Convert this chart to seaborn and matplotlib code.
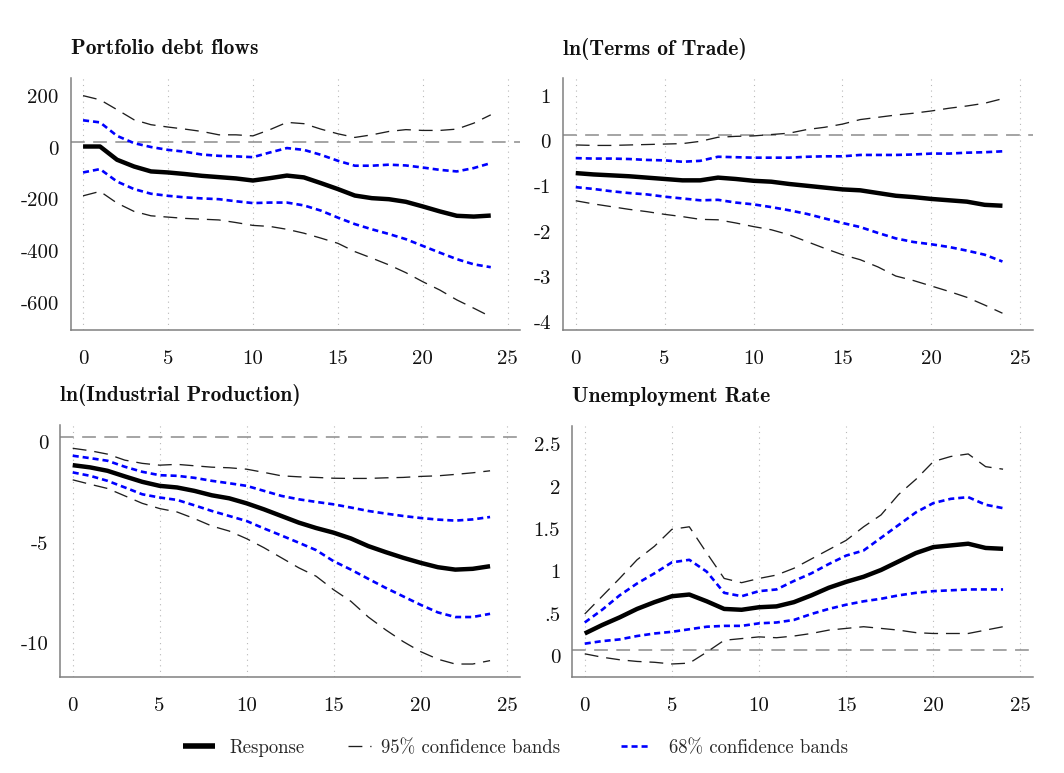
import matplotlib
matplotlib.use("Agg")
import matplotlib.pyplot as plt
from matplotlib import transforms
from matplotlib.lines import Line2D
import seaborn as sns

# Impulse horizon (months)
horizon = list(range(25))
x_ticks = [0, 5, 10, 15, 20, 25]

# Portfolio debt flows
pdf_resp = [-17, -17, -68, -94, -113, -117, -123, -130, -135, -140, -148, -139, -129,
            -136, -158, -181, -206, -216, -220, -230, -248, -267, -284, -287, -283]
pdf_hi95 = [179, 163, 125, 86, 67, 58, 50, 41, 28, 28, 24, 48, 76, 71, 50, 32, 18, 28,
            41, 48, 45, 45, 50, 73, 105]
pdf_hi68 = [84, 76, 24, -4, -19, -30, -37, -48, -53, -55, -58, -40, -23, -30, -49, -72,
            -91, -91, -87, -90, -98, -107, -113, -100, -81]
pdf_lo68 = [-117, -104, -152, -181, -199, -207, -213, -217, -220, -228, -235, -233, -233,
            -244, -264, -291, -316, -336, -354, -374, -400, -426, -451, -471, -482]
pdf_lo95 = [-207, -190, -235, -267, -284, -289, -294, -297, -300, -310, -321, -325, -336,
            -351, -370, -390, -422, -447, -473, -503, -538, -570, -608, -640, -673]
pdf_yticks = [200, 0, -200, -400, -600]
pdf_ylabels = ["200", "0", "-200", "-400", "-600"]

# ln(Terms of Trade)
tot_resp = [-0.83, -0.86, -0.88, -0.90, -0.93, -0.96, -0.99, -0.99, -0.93, -0.96, -1.00,
            -1.02, -1.07, -1.11, -1.15, -1.19, -1.21, -1.27, -1.33, -1.36, -1.40, -1.43,
            -1.46, -1.53, -1.55]
tot_hi95 = [-0.21, -0.22, -0.22, -0.21, -0.20, -0.19, -0.18, -0.13, -0.04, -0.02, -0.01,
            0.02, 0.05, 0.13, 0.18, 0.25, 0.35, 0.40, 0.45, 0.49, 0.54, 0.60, 0.65, 0.71, 0.81]
tot_hi68 = [-0.50, -0.51, -0.51, -0.52, -0.54, -0.55, -0.58, -0.56, -0.47, -0.48, -0.49,
            -0.49, -0.49, -0.47, -0.46, -0.46, -0.43, -0.43, -0.43, -0.42, -0.40, -0.40,
            -0.38, -0.37, -0.35]
tot_lo68 = [-1.14, -1.18, -1.23, -1.27, -1.30, -1.35, -1.39, -1.43, -1.42, -1.48, -1.52,
            -1.58, -1.65, -1.73, -1.83, -1.93, -2.02, -2.15, -2.27, -2.35, -2.40, -2.46,
            -2.54, -2.63, -2.78]
tot_lo95 = [-1.44, -1.51, -1.57, -1.63, -1.68, -1.74, -1.79, -1.85, -1.86, -1.93, -2.01,
            -2.08, -2.19, -2.34, -2.49, -2.63, -2.74, -2.90, -3.10, -3.20, -3.32, -3.44,
            -3.57, -3.74, -3.92]
tot_yticks = [1, 0, -1, -2, -3, -4]
tot_ylabels = ["1", "0", "-1", "-2", "-3", "-4"]

# ln(Industrial Production)
ip_resp = [-1.42, -1.53, -1.70, -1.98, -2.25, -2.45, -2.53, -2.70, -2.92, -3.07, -3.32,
           -3.62, -3.95, -4.28, -4.55, -4.78, -5.07, -5.45, -5.75, -6.03, -6.28, -6.50,
           -6.62, -6.58, -6.45]
ip_hi95 = [-0.58, -0.70, -0.87, -1.17, -1.33, -1.42, -1.38, -1.45, -1.52, -1.55, -1.62,
           -1.78, -1.95, -2.00, -2.03, -2.07, -2.08, -2.08, -2.05, -2.03, -1.98, -1.95,
           -1.88, -1.80, -1.70]
ip_hi68 = [-0.95, -1.07, -1.20, -1.50, -1.75, -1.92, -1.95, -2.05, -2.20, -2.32, -2.45,
           -2.70, -2.95, -3.12, -3.25, -3.37, -3.53, -3.70, -3.83, -3.95, -4.05, -4.13,
           -4.18, -4.12, -4.00]
ip_lo68 = [-1.78, -1.95, -2.20, -2.53, -2.87, -3.03, -3.15, -3.42, -3.70, -3.95, -4.20,
           -4.57, -4.92, -5.28, -5.65, -6.20, -6.62, -7.08, -7.53, -7.95, -8.37, -8.75,
           -8.98, -8.98, -8.82]
ip_lo95 = [-2.15, -2.37, -2.58, -2.95, -3.32, -3.58, -3.75, -4.08, -4.45, -4.70, -5.08,
           -5.53, -6.03, -6.53, -6.95, -7.62, -8.20, -8.98, -9.62, -10.20, -10.70, -11.08,
           -11.32, -11.32, -11.15]
ip_yticks = [0, -5, -10]
ip_ylabels = ["0", "-5", "-10"]

# Unemployment Rate
ur_resp = [0.20, 0.30, 0.39, 0.49, 0.57, 0.64, 0.66, 0.58, 0.49, 0.48, 0.51, 0.52, 0.57,
           0.65, 0.74, 0.81, 0.87, 0.95, 1.05, 1.15, 1.22, 1.24, 1.26, 1.21, 1.20]
ur_hi95 = [0.43, 0.64, 0.85, 1.07, 1.23, 1.43, 1.46, 1.15, 0.85, 0.80, 0.85, 0.89, 0.97,
           1.08, 1.19, 1.30, 1.46, 1.60, 1.84, 2.02, 2.23, 2.29, 2.32, 2.17, 2.14]
ur_hi68 = [0.33, 0.48, 0.65, 0.79, 0.91, 1.04, 1.07, 0.93, 0.68, 0.64, 0.70, 0.72, 0.82,
           0.91, 1.02, 1.12, 1.18, 1.33, 1.48, 1.63, 1.74, 1.79, 1.81, 1.72, 1.68]
ur_lo68 = [0.08, 0.11, 0.13, 0.17, 0.20, 0.22, 0.25, 0.28, 0.29, 0.29, 0.32, 0.33, 0.36,
           0.43, 0.49, 0.54, 0.58, 0.61, 0.65, 0.68, 0.70, 0.71, 0.72, 0.72, 0.72]
ur_lo95 = [-0.04, -0.08, -0.11, -0.13, -0.14, -0.16, -0.15, -0.02, 0.12, 0.14, 0.16, 0.15,
           0.17, 0.20, 0.24, 0.26, 0.28, 0.26, 0.24, 0.21, 0.20, 0.20, 0.20, 0.24, 0.28]
ur_yticks = [0, 0.5, 1, 1.5, 2, 2.5]
ur_ylabels = ["0", ".5", "1", "1.5", "2", "2.5"]

titles = ["Portfolio debt flows", "ln(Terms of Trade)",
          "ln(Industrial Production)", "Unemployment Rate"]
legend_labels = ["Response", "95% confidence bands", "68% confidence bands"]

panels = [
    dict(title=titles[0], resp=pdf_resp, hi95=pdf_hi95, lo95=pdf_lo95, hi68=pdf_hi68,
         lo68=pdf_lo68, yticks=pdf_yticks, ylabels=pdf_ylabels, ylim=(-724, 247),
         pos=[0.0664, 0.5731, 0.4223, 0.3260]),
    dict(title=titles[1], resp=tot_resp, hi95=tot_hi95, lo95=tot_lo95, hi68=tot_hi68,
         lo68=tot_lo68, yticks=tot_yticks, ylabels=tot_ylabels, ylim=(-4.29, 1.26),
         pos=[0.5289, 0.5731, 0.4420, 0.3256]),
    dict(title=titles[2], resp=ip_resp, hi95=ip_hi95, lo95=ip_lo95, hi68=ip_hi68,
         lo68=ip_lo68, yticks=ip_yticks, ylabels=ip_ylabels, ylim=(-11.95, 0.58),
         pos=[0.0564, 0.1246, 0.4323, 0.3256]),
    dict(title=titles[3], resp=ur_resp, hi95=ur_hi95, lo95=ur_lo95, hi68=ur_hi68,
         lo68=ur_lo68, yticks=ur_yticks, ylabels=ur_ylabels, ylim=(-0.31, 2.65),
         pos=[0.5376, 0.1246, 0.4333, 0.3243]),
]

# Line styles
resp_style = dict(color="black", linewidth=3.2, solid_capstyle="butt")
b95_style = dict(color="#1e1e1e", linewidth=0.95, linestyle=(0, (10.5, 6.0)))
b68_style = dict(color="#0000ff", linewidth=1.9, linestyle=(0, (2.3, 1.5)))
zero_style = dict(color="#8c8c8c", linewidth=1.1, linestyle=(0, (9.0, 5.5)))
grid_style = dict(color="#b8b8b8", linewidth=0.8, linestyle=(0, (1, 4)))
spine_color = "#808080"

sns.set_theme(style="white")
plt.rcParams["font.family"] = ["cmr10", "DejaVu Serif"]
plt.rcParams["axes.unicode_minus"] = False
plt.rcParams["axes.formatter.use_mathtext"] = True

fig = plt.figure(figsize=(10.64, 7.73), dpi=100)
label_shift = transforms.ScaledTranslation(0, -0.055, fig.dpi_scale_trans)

for p in panels:
    ax = fig.add_axes(p["pos"])
    for xv in x_ticks:
        ax.axvline(xv, zorder=0.5, **grid_style)
    ax.axhline(0, zorder=1, **zero_style)

    sns.lineplot(x=horizon, y=p["hi95"], ax=ax, errorbar=None, zorder=2, **b95_style)
    sns.lineplot(x=horizon, y=p["lo95"], ax=ax, errorbar=None, zorder=2, **b95_style)
    sns.lineplot(x=horizon, y=p["hi68"], ax=ax, errorbar=None, zorder=3, **b68_style)
    sns.lineplot(x=horizon, y=p["lo68"], ax=ax, errorbar=None, zorder=3, **b68_style)
    sns.lineplot(x=horizon, y=p["resp"], ax=ax, errorbar=None, zorder=4, **resp_style)

    ax.set_xlim(-0.73, 25.72)
    ax.set_ylim(*p["ylim"])
    ax.set_xticks(x_ticks)
    ax.set_xticklabels([str(v) for v in x_ticks])
    ax.set_yticks(p["yticks"])
    ax.set_yticklabels(p["ylabels"])
    ax.set_xlabel("")
    ax.set_ylabel("")
    ax.grid(False)
    ax.tick_params(axis="both", length=0, labelsize=15, labelcolor="#111111")
    ax.tick_params(axis="x", pad=14.5)
    ax.tick_params(axis="y", pad=8.5)
    for lbl in ax.get_yticklabels():
        lbl.set_transform(lbl.get_transform() + label_shift)

    for side in ("top", "right"):
        ax.spines[side].set_visible(False)
    for side in ("left", "bottom"):
        ax.spines[side].set_color(spine_color)
        ax.spines[side].set_linewidth(1.1)

    ax.annotate(p["title"], xy=(0, 1), xycoords="axes fraction",
                xytext=(0, 17), textcoords="offset points",
                ha="left", va="baseline", fontsize=15.5, family="cmb10",
                color="#111111")

# Legend: one entry per block, each with its own sample length
resp_handle = Line2D([], [], **resp_style)
resp_handle.set_linewidth(4.0)
legend_items = [
    (resp_handle, legend_labels[0], 183, 1.7, 0.8),
    (Line2D([], [], **b95_style), legend_labels[1], 348, 1.2, 0.55),
    (Line2D([], [], **b68_style), legend_labels[2], 621, 1.6, 0.95),
]
for handle, text, x_px, hlen, hpad in legend_items:
    fig.legend([handle], [text], loc="center left",
               bbox_to_anchor=(x_px / 1064, 25 / 773), frameon=False,
               fontsize=13.5, handlelength=hlen, handletextpad=hpad,
               borderpad=0, borderaxespad=0)

fig.savefig("out.png", dpi=100, facecolor="white")
